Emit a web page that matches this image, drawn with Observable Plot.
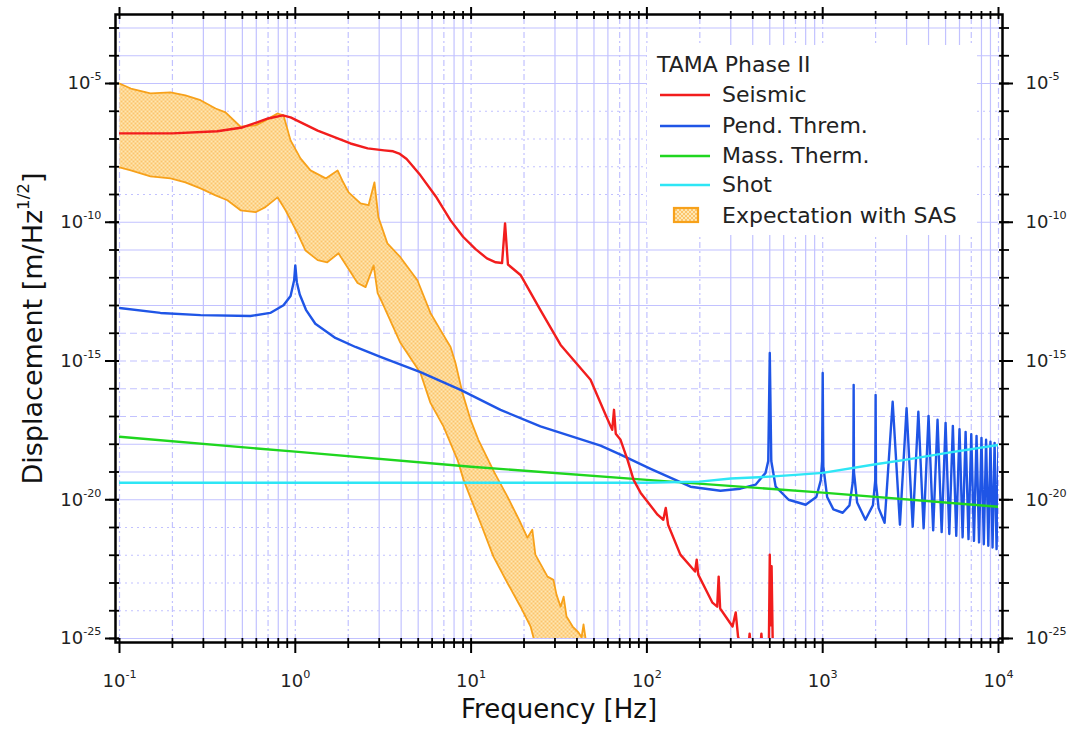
<!DOCTYPE html>
<html>
<head>
<meta charset="utf-8">
<script src="https://cdn.jsdelivr.net/npm/d3@7"></script>
<script src="https://cdn.jsdelivr.net/npm/@observablehq/plot@0.6"></script>
<style>
  html, body { margin: 0; padding: 0; background: #fff; }
  #wrap { position: relative; width: 1078px; height: 729px; overflow: hidden; }
  #legend { position: absolute; left: 647px; top: 45px; }
</style>
</head>
<body>
<div id="wrap"></div>
<script>
// ---------------- data (frequency [Hz], displacement [m/Hz^1/2]) ----------------
const seismic = [
  [0.1,1.6e-7],[0.2,1.6e-7],[0.36,1.9e-7],[0.5,2.6e-7],[0.7,5.5e-7],[0.85,7.1e-7],[0.94,6.0e-7],
  [1.34,2.0e-7],[2.06,6.9e-8],[2.58,4.6e-8],[3.2,3.9e-8],[3.6,3.6e-8],[3.9,3.0e-8],[4.3,1.9e-8],
  [5.15,4.9e-9],[6.3,8.5e-10],[7.64,1.17e-10],[9.0,3.0e-11],
  [10.6,1.07e-11],[12.3,5.0e-12],[13.8,3.6e-12],[15.0,3.4e-12],[15.6,9.1e-11],[16.2,3.0e-12],[19.1,1.26e-12],
  [24.8,6.8e-14],[32.3,3.8e-15],[47.8,2.1e-16],[58.2,1.15e-17],[63.5,3.3e-18],[65,1.74e-17],
  [66.5,2.4e-18],[70.8,1.45e-18],[77.6,2.75e-19],[84,5.2e-20],[92,1.8e-20],[115,2.9e-21],
  [124,1.9e-21],[128,5.1e-21],[132,1.26e-21],[155,1.05e-22],[188,2.6e-23],[192,6.9e-23],
  [196,2.0e-23],[236,1.95e-24],[251,1.4e-24],[256,1.7e-23],[261,1.2e-24],[307,2.7e-25],
  [320,8.7e-25],[330,1.17e-25],[345,5e-26],[378,5e-26],[384,1.5e-25],[390,5e-26],[442,5e-26],
  [448,1.5e-25],[454,5e-26],[494,5e-26],[500,1.05e-22],[506,3e-25],[512,4e-23],[520,5e-26],[540,5e-26]
];
const pendulumThermal = [
  [0.1,8.1e-14],[0.171,5.4e-14],[0.289,4.5e-14],[0.556,4.2e-14],[0.72,5.4e-14],[0.857,1.02e-13],
  [0.94,2.2e-13],[0.985,8.1e-13],[1.0,2.8e-12],[1.02,6.9e-13],[1.06,2.5e-13],[1.15,7.0e-14],
  [1.3,2.2e-14],[1.69,6.8e-15],[2.20,3.2e-15],[3.05,1.4e-15],[5.15,4.0e-16],[8.71,9.1e-17],[14.7,1.74e-17],
  [24.8,4.4e-18],[54.5,8.9e-19],[70.8,4.2e-19],[105,1.3e-19],[177,2.95e-20],[262,2.1e-20],
  [340,2.5e-20],[415,3.5e-20],[473,9.3e-20],[490,2.5e-19],[500,1.95e-15],[510,2.5e-19],
  [540,2.95e-20],[640,1e-20],[800,6.6e-21],[920,1.26e-20],[975,5e-20],[992,2.5e-19],
  [1000,3.7e-16],[1008,1.6e-19],[1060,1.26e-20],[1150,4.5e-21],[1300,3.4e-21],[1420,6.3e-21],
  [1480,4e-20],[1494,1.26e-19],[1500,1.38e-16],[1506,1e-19],[1570,7.9e-21],[1750,1.9e-21],
  [1930,6.3e-21],[1990,5e-20],[2000,6.0e-17],[2010,4e-20],[2080,5e-21],[2250,1.48e-21],
  [2500,3.4e-17],[2750,1.26e-21],[3000,2.0e-17],[3250,1.07e-21],[3500,1.48e-17],[3750,9.3e-22],
  [4000,1.05e-17],[4250,7.9e-22],[4500,7.6e-18],[4750,6.8e-22],[5000,5.9e-18],[5250,5.8e-22],
  [5500,4.6e-18],[5750,5.0e-22],[6000,3.5e-18],[6250,4.4e-22],[6500,2.8e-18],[6750,3.8e-22],
  [7000,2.3e-18],[7250,3.3e-22],[7500,2.0e-18],[7750,2.9e-22],[8000,1.7e-18],[8250,2.5e-22],
  [8500,1.45e-18],[8750,2.2e-22],[9000,1.23e-18],[9250,1.9e-22],[9500,1.12e-18],[9750,1.66e-22],
  [10000,9.5e-19]
];
const massThermal = [[0.1,1.86e-18],[1,5.4e-19],[10,1.55e-19],[100,5.2e-20],[1000,1.8e-20],[10000,5.6e-21]];
const shotNoise = [[0.1,4.1e-20],[100,4.1e-20],[200,4.5e-20],[300,5.8e-20],[500,6.8e-20],[700,7.9e-20],
  [1000,9.3e-20],[2000,1.9e-19],[3000,2.8e-19],[5000,4.8e-19],[10000,9.5e-19]];
const sasUpper = [
  [0.1,1e-5],[0.116,6.6e-6],[0.15,4.4e-6],[0.195,4.8e-6],[0.237,3.7e-6],[0.289,2.5e-6],[0.352,1.26e-6],
  [0.401,9.1e-7],[0.488,2.8e-7],[0.594,3.1e-7],[0.676,4.7e-7],[0.792,8.3e-7],[0.857,7.1e-7],[0.94,8.9e-8],
  [1.07,2.0e-8],[1.22,7.4e-9],[1.49,3.8e-9],[1.74,7.4e-9],[1.85,3.2e-9],[2.01,1.2e-9],[2.35,4.8e-10],
  [2.61,4.1e-10],[2.82,2.75e-9],[2.97,1.5e-10],[3.34,1.74e-11],[3.96,5.5e-12],[4.95,8.1e-13],
  [5.87,5.4e-14],[6.70,1.3e-14],[7.64,3.2e-15],[8.15,8.5e-16],[8.93,7.1e-17],[9.93,7.6e-18],
  [11.0,1.45e-18],[13.6,9.3e-20],[16.1,1.3e-20],[19.1,1.48e-21],[20.9,4.3e-22],[22.3,8.3e-22],
  [23.2,1.05e-22],[27.2,1.7e-23],[29.4,1.3e-23],[30.6,3.8e-24],[32.3,1.4e-24],[33.6,3.2e-24],
  [34.9,6.2e-25],[37.8,2.7e-25],[40.8,1.66e-25],[42.5,1.1e-25],[43.6,3.2e-25],[45.3,6e-26]
];
const sasLower = [
  [0.1,9.5e-9],[0.116,7.4e-9],[0.15,4.5e-9],[0.195,3.8e-9],[0.237,2.75e-9],[0.289,1.66e-9],[0.352,9.3e-10],
  [0.411,6.2e-10],[0.488,2.7e-10],[0.594,2.3e-10],[0.676,3.5e-10],[0.792,7.9e-10],[0.88,2.7e-10],
  [1.03,4.0e-11],[1.14,9.8e-12],[1.34,4.3e-12],[1.52,3.6e-12],[1.76,7.6e-12],[1.98,2.4e-12],
  [2.26,6.5e-13],[2.51,4.6e-13],[2.79,2.8e-12],[2.94,2.8e-13],[3.13,1.23e-13],[3.96,4.5e-15],
  [5.15,3.7e-16],[5.87,3.1e-17],[6.97,4.3e-18],[8.37,2.75e-19],[9.06,5.2e-20],[9.93,1.17e-20],
  [11.3,1.48e-21],[13.4,8.9e-23],[16.1,1.0e-23],[19.1,1.4e-24],[21.8,2.7e-25],[23.2,6e-26]
];

// ---------------- ticks ----------------
const freqDecades = [0.1, 1, 10, 100, 1000, 10000];
const minorMultipliers = [2, 3, 4, 5, 6, 7, 8, 9];
const dispDecades = [1e-25,1e-24,1e-23,1e-22,1e-21,1e-20,1e-19,1e-18,1e-17,1e-16,1e-15,1e-14,
  1e-13,1e-12,1e-11,1e-10,1e-9,1e-8,1e-7,1e-6,1e-5,1e-4,1e-3];
const dispLabeled = [1e-25, 1e-20, 1e-15, 1e-10, 1e-5];
const gridYSolid = [1e-3,1e-4,1e-5,1e-10,1e-11,1e-12,1e-13,1e-18,1e-19,1e-20,1e-25];
const gridYDotted = [1e-6,1e-7,1e-8,1e-9,1e-21,1e-22,1e-23,1e-24];
const gridYDashed = [1e-14,1e-15,1e-16,1e-17];
const gridXSolidMult = [3, 4, 5, 6, 8, 9];
const gridXDashedMult = [2, 7];

const title = "TAMA Phase II";
const seriesNames = ["Seismic", "Pend. Threm.", "Mass. Therm.", "Shot", "Expectation with SAS"];
const seriesColors = ["#f21d1d", "#1f55e6", "#1fd61f", "#2ee6f5", "#f7a11a"];

// ---------------- build ----------------
const lowerDecades = freqDecades.slice(0, -1);
const xMinor = lowerDecades.flatMap(d => minorMultipliers.map(m => m * d));
const gridXSolid = lowerDecades.flatMap(d => gridXSolidMult.map(m => m * d));
const gridXDashed = freqDecades.concat(lowerDecades.flatMap(d => gridXDashedMult.map(m => m * d)));
const sasPolygon = sasUpper.concat(sasLower.slice().reverse());
const gridColor = "#c2c2ff";
const expFmt = v => `10^${Math.round(Math.log10(v))}`;
const blank = () => "";
const X = d => d[0], Y = d => d[1];

const plot = Plot.plot({
  width: 1078, height: 729,
  marginLeft: 119, marginRight: 80, marginTop: 18, marginBottom: 91,
  x: {type: "log", domain: [0.1, 1e4], label: null},
  y: {type: "log", domain: [1e-25, 2.2e-3], label: null},
  style: {fontFamily: "'DejaVu Sans', sans-serif", fontSize: "18px", background: "#fff", color: "#000", overflow: "visible"},
  marks: [
    Plot.ruleX(gridXSolid, {stroke: gridColor, strokeWidth: 1.2}),
    Plot.ruleX(gridXDashed, {stroke: gridColor, strokeWidth: 1.2, strokeDasharray: "6,3,2,3"}),
    Plot.ruleY(gridYSolid, {stroke: gridColor, strokeWidth: 1.2}),
    Plot.ruleY(gridYDotted, {stroke: gridColor, strokeWidth: 1.2, strokeDasharray: "2,4"}),
    Plot.ruleY(gridYDashed, {stroke: gridColor, strokeWidth: 1.2, strokeDasharray: "7,4"}),
    Plot.line(sasPolygon, {x: X, y: Y, fill: "url(#sasPat)", stroke: seriesColors[4], strokeWidth: 1.8, clip: true}),
    Plot.line(pendulumThermal, {x: X, y: Y, stroke: seriesColors[1], strokeWidth: 2.4, clip: true}),
    Plot.line(massThermal, {x: X, y: Y, stroke: seriesColors[2], strokeWidth: 2.4, clip: true}),
    Plot.line(shotNoise, {x: X, y: Y, stroke: seriesColors[3], strokeWidth: 2.4, clip: true}),
    Plot.line(seismic, {x: X, y: Y, stroke: seriesColors[0], strokeWidth: 2.4, clip: true}),
    Plot.frame({inset: -4, stroke: "#000", strokeWidth: 2.5}),
    Plot.axisX(xMinor, {anchor: "bottom", tickSize: 10, tickFormat: blank, strokeWidth: 1.8}),
    Plot.axisX(freqDecades, {anchor: "bottom", tickSize: 15, tickPadding: 21, fontSize: 18, tickFormat: expFmt, strokeWidth: 2, fill: "#222"}),
    Plot.axisX(xMinor, {anchor: "top", tickSize: 8, tickFormat: blank, strokeWidth: 1.8}),
    Plot.axisX(freqDecades, {anchor: "top", tickSize: 12, tickFormat: blank, strokeWidth: 2}),
    Plot.axisY(dispDecades, {anchor: "left", tickSize: 10, tickFormat: blank, strokeWidth: 1.8}),
    Plot.axisY(dispLabeled, {anchor: "left", tickSize: 14, tickPadding: 4, fontSize: 18, tickFormat: expFmt, strokeWidth: 2, fill: "#222"}),
    Plot.axisY(dispDecades, {anchor: "right", tickSize: 10, tickFormat: blank, strokeWidth: 1.8}),
    Plot.axisY(dispLabeled, {anchor: "right", tickSize: 14, tickPadding: 13, fontSize: 18, tickFormat: expFmt, strokeWidth: 2, fill: "#222"}),
    Plot.text(["Frequency [Hz]"], {text: d => d, frameAnchor: "bottom", dy: 71, fontSize: 26, lineAnchor: "middle", textAnchor: "middle", fill: "#111"}),
    Plot.text(["Displacement [m/Hz^{1/2}]"], {text: d => d, frameAnchor: "left", dx: -86, rotate: -90, fontSize: 27, lineAnchor: "middle", textAnchor: "middle", fill: "#111"})
  ]
});

const wrap = document.getElementById("wrap");
wrap.appendChild(plot);

// pattern for the SAS band
d3.select(plot).insert("defs", ":first-child").html(
  '<pattern id="sasPat" width="4" height="4" patternUnits="userSpaceOnUse">' +
  '<rect width="4" height="4" fill="#fee7b4"/><rect width="2" height="2" fill="#fbc46c"/>' +
  '<rect x="2" y="2" width="2" height="2" fill="#fbc46c"/></pattern>');

// superscripts: "base^{sup}tail"
plot.querySelectorAll("text").forEach(t => {
  const s = t.textContent;
  const m = s.match(/^(.*?)\^\{?([^}]*)\}?(.*)$/);
  if (!m) return;
  const F = parseFloat(getComputedStyle(t).fontSize) || 18;
  while (t.firstChild) t.removeChild(t.firstChild);
  const ns = "http://www.w3.org/2000/svg";
  const a = document.createElementNS(ns, "tspan"); a.textContent = m[1]; t.appendChild(a);
  const b = document.createElementNS(ns, "tspan"); b.textContent = m[2];
  b.setAttribute("font-size", (0.62 * F).toFixed(1)); b.setAttribute("dy", (-0.5 * F).toFixed(1)); t.appendChild(b);
  if (m[3]) {
    const c = document.createElementNS(ns, "tspan"); c.textContent = m[3];
    c.setAttribute("font-size", F); c.setAttribute("dy", (0.5 * F).toFixed(1)); t.appendChild(c);
  }
});

// legend (overlay inside the plot frame)
const rowBase = [57, 88, 118, 147, 178];
let lg = '<svg id="legend" width="330" height="190" xmlns="http://www.w3.org/2000/svg" font-family="DejaVu Sans, sans-serif" font-size="22">';
lg += '<defs><pattern id="sasPat2" width="4" height="4" patternUnits="userSpaceOnUse"><rect width="4" height="4" fill="#fee7b4"/><rect width="2" height="2" fill="#fbc46c"/><rect x="2" y="2" width="2" height="2" fill="#fbc46c"/></pattern></defs>';
lg += '<rect width="330" height="190" fill="#fff"/>';
lg += `<text x="10" y="27" fill="#222">${title}</text>`;
seriesNames.forEach((name, i) => {
  const yb = rowBase[i];
  if (i < 4) lg += `<line x1="13" x2="63" y1="${yb - 7}" y2="${yb - 7}" stroke="${seriesColors[i]}" stroke-width="2.5"/>`;
  else lg += `<rect x="27" y="${yb - 15}" width="24" height="14" fill="url(#sasPat2)" stroke="${seriesColors[i]}" stroke-width="2.2"/>`;
  lg += `<text x="75" y="${yb}" fill="#222">${name}</text>`;
});
lg += '</svg>';
wrap.insertAdjacentHTML("beforeend", lg);
</script>
</body>
</html>
